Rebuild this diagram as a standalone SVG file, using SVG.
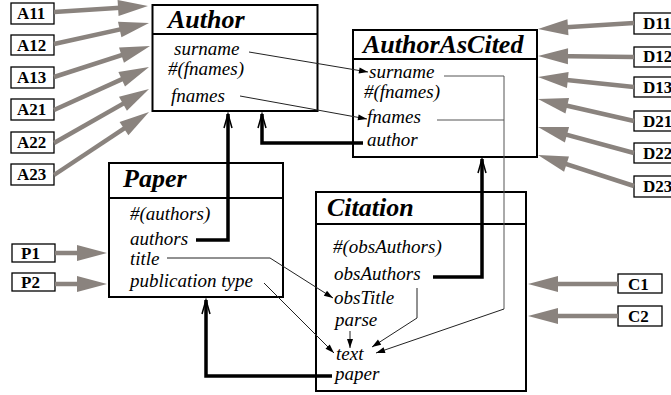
<svg xmlns="http://www.w3.org/2000/svg" width="671" height="395" viewBox="0 0 671 395">
<style>
.box{fill:#fff;stroke:#000;stroke-width:2}
.title{font-family:"Liberation Serif",serif;font-weight:bold;font-style:italic;font-size:26px;fill:#000}
.attr{font-family:"Liberation Serif",serif;font-style:italic;font-size:19px;fill:#000}
.lbl{font-family:"Liberation Serif",serif;font-weight:bold;font-size:17px;fill:#000}
.lblbox{fill:#fff;stroke:#000;stroke-width:1.3}
.gray{stroke:#8a837e;stroke-width:4.5;fill:none;marker-end:url(#gh)}
.thin{stroke:#222;stroke-width:1;fill:none;marker-end:url(#sh)}
.thin2{stroke:#555;stroke-width:1;fill:none}
.thick{stroke:#000;stroke-width:3.5;fill:none;marker-end:url(#oh)}
</style>
<defs>
<marker id="gh" markerUnits="userSpaceOnUse" markerWidth="30" markerHeight="16" refX="18" refY="8" orient="auto" overflow="visible"><path d="M0,0 L30,8 L0,16 z" fill="#8a837e"/></marker>
<marker id="sh" markerUnits="userSpaceOnUse" markerWidth="9" markerHeight="6" refX="9" refY="3" orient="auto" overflow="visible"><path d="M0,0 L9,3 L0,6 z" fill="#000"/></marker>
<marker id="oh" markerUnits="userSpaceOnUse" markerWidth="14" markerHeight="10" refX="14" refY="5" orient="auto" overflow="visible"><path d="M0,1 L14,5 L0,9" fill="none" stroke="#000" stroke-width="1.5"/></marker>
</defs>

<g id="Author">
<rect class="box" x="152.5" y="5" width="165" height="106"/>
<line x1="152.5" y1="34" x2="317.5" y2="34" stroke="#000" stroke-width="2"/>
<text class="title" x="168" y="28">Author</text>
<text class="attr" x="174" y="55">surname</text>
<text class="attr" x="168" y="75">#(fnames)</text>
<text class="attr" x="171" y="102">fnames</text>
</g>

<g id="AuthorAsCited">
<rect class="box" x="353" y="30" width="184" height="127"/>
<line x1="353" y1="59" x2="537" y2="59" stroke="#000" stroke-width="2"/>
<text class="title" x="363" y="53">AuthorAsCited</text>
<text class="attr" x="369" y="78">surname</text>
<text class="attr" x="364" y="98">#(fnames)</text>
<text class="attr" x="367" y="123">fnames</text>
<text class="attr" x="367" y="146">author</text>
</g>

<g id="Paper">
<rect class="box" x="109" y="163" width="174" height="134"/>
<line x1="109" y1="198" x2="283" y2="198" stroke="#000" stroke-width="2"/>
<text class="title" x="123" y="187">Paper</text>
<text class="attr" x="130" y="220">#(authors)</text>
<text class="attr" x="130" y="245">authors</text>
<text class="attr" x="130" y="265">title</text>
<text class="attr" x="130" y="287">publication type</text>
</g>

<g id="Citation">
<rect class="box" x="316" y="192" width="210" height="199"/>
<line x1="316" y1="224" x2="526" y2="224" stroke="#000" stroke-width="2"/>
<text class="title" x="327" y="216">Citation</text>
<text class="attr" x="333" y="253">#(obsAuthors)</text>
<text class="attr" x="334" y="280">obsAuthors</text>
<text class="attr" x="334" y="304">obsTitle</text>
<text class="attr" x="335" y="326">parse</text>
<text class="attr" x="336" y="360">text</text>
<text class="attr" x="335" y="380">paper</text>
</g>

<g id="labels">
<g id="A11"><rect class="lblbox" x="11" y="3" width="43" height="21"/><text class="lbl" x="17" y="19">A11</text></g>
<g id="A12"><rect class="lblbox" x="11" y="35" width="43" height="20"/><text class="lbl" x="17" y="51">A12</text></g>
<g id="A13"><rect class="lblbox" x="11" y="67" width="43" height="21"/><text class="lbl" x="17" y="83">A13</text></g>
<g id="A21"><rect class="lblbox" x="11" y="99" width="43" height="21"/><text class="lbl" x="17" y="115">A21</text></g>
<g id="A22"><rect class="lblbox" x="11" y="132" width="43" height="21"/><text class="lbl" x="17" y="148">A22</text></g>
<g id="A23"><rect class="lblbox" x="11" y="164" width="43" height="21"/><text class="lbl" x="17" y="180">A23</text></g>
<g id="P1"><rect class="lblbox" x="12" y="244" width="43" height="18"/><text class="lbl" x="21" y="259">P1</text></g>
<g id="P2"><rect class="lblbox" x="12" y="273" width="43" height="18"/><text class="lbl" x="21" y="288">P2</text></g>
<g id="D11"><rect class="lblbox" x="634" y="13" width="44" height="21"/><text class="lbl" x="643" y="29">D11</text></g>
<g id="D12"><rect class="lblbox" x="634" y="47" width="44" height="20"/><text class="lbl" x="643" y="62">D12</text></g>
<g id="D13"><rect class="lblbox" x="634" y="77" width="44" height="20"/><text class="lbl" x="643" y="93">D13</text></g>
<g id="D21"><rect class="lblbox" x="634" y="111" width="44" height="20"/><text class="lbl" x="643" y="127">D21</text></g>
<g id="D22"><rect class="lblbox" x="634" y="143" width="44" height="20"/><text class="lbl" x="643" y="159">D22</text></g>
<g id="D23"><rect class="lblbox" x="634" y="176" width="44" height="21"/><text class="lbl" x="643" y="192">D23</text></g>
<g id="C1"><rect class="lblbox" x="618" y="274" width="44" height="19"/><text class="lbl" x="628" y="290">C1</text></g>
<g id="C2"><rect class="lblbox" x="618" y="306" width="44" height="20"/><text class="lbl" x="628" y="322">C2</text></g>
</g>

<g id="connectors">
<line class="gray" x1="54" y1="12" x2="136" y2="6.8"/>
<line class="gray" x1="54" y1="44" x2="137.3" y2="25.6"/>
<line class="gray" x1="54" y1="77" x2="138.6" y2="49.7"/>
<line class="gray" x1="54" y1="110" x2="138.1" y2="71.9"/>
<line class="gray" x1="54" y1="143" x2="138.6" y2="94.9"/>
<line class="gray" x1="54" y1="175" x2="139" y2="118.6"/>
<line class="gray" x1="634" y1="23" x2="550" y2="28.3"/>
<line class="gray" x1="634" y1="57" x2="550" y2="56.1"/>
<line class="gray" x1="634" y1="87" x2="549.9" y2="78.2"/>
<line class="gray" x1="634" y1="121" x2="549.7" y2="101.7"/>
<line class="gray" x1="634" y1="153" x2="549.6" y2="130.1"/>
<line class="gray" x1="634" y1="186" x2="549.4" y2="158.7"/>
<line class="gray" x1="618" y1="284" x2="540" y2="284"/>
<line class="gray" x1="618" y1="316" x2="540" y2="316"/>
<line class="gray" x1="55" y1="253" x2="95" y2="253"/>
<line class="gray" x1="55" y1="284" x2="95" y2="284"/>

<polyline class="thin" points="249,52 368,72"/>
<polyline class="thin" points="240,96 367,119"/>
<polyline class="thin2" points="444,76 504,76 504,309"/>
<polyline class="thin" points="504,309 376,353"/>
<polyline class="thin2" points="437,120 504,120"/>
<polyline class="thin" points="417,288 417,318 372,347"/>
<polyline class="thin" points="350,331 350,348"/>
<polyline class="thin" points="167,258 270,258 333,298"/>
<polyline class="thin" points="264,283 334,353"/>

<polyline class="thick" points="196,240 228,240 228,114"/>
<polyline class="thick" points="363,143 262,143 262,114"/>
<polyline class="thick" points="433,277 482,277 482,159"/>
<polyline class="thick" points="332,376 206,376 206,300"/>
</g>
</svg>
